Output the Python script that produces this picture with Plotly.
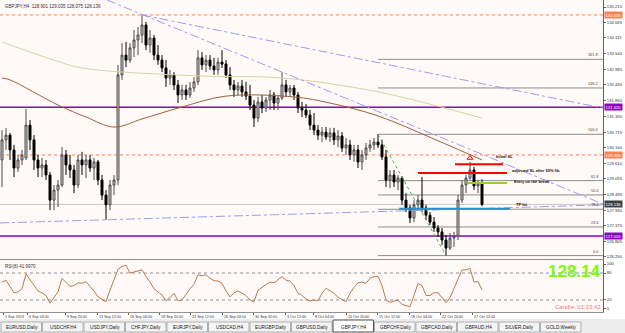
import plotly.graph_objects as go

# ---------------- data ----------------
symbol_title = "GBPJPY,H4  128.901 129.035 128.075 128.136"

opens = [129.73,130.45,130.62,130.09,129.44,129.73,129.80,130.98,130.45,129.73,
         129.44,129.55,129.19,128.29,128.65,128.83,129.91,129.55,129.37,128.83,
         129.73,129.55,129.73,129.44,129.66,129.01,128.47,128.12,128.83,129.01,
         132.78,133.49,133.31,133.75,134.03,134.21,134.57,133.85,134.10,133.49,
         133.31,133.03,132.67,132.78,132.42,132.06,132.24,132.06,132.31,132.53,
         133.39,133.14,133.31,133.10,132.96,133.24,133.17,132.78,132.42,132.24,
         132.38,132.17,132.02,131.70,131.23,131.81,131.59,131.88,132.06,131.77,
         131.95,132.42,132.17,132.31,132.06,131.59,131.52,131.34,130.98,130.80,
         130.62,130.73,130.55,130.70,130.45,130.59,130.16,130.27,129.91,130.09,
         129.66,129.91,130.16,130.27,130.37,130.27,129.84,129.01,129.19,128.94,
         129.08,128.29,128.01,127.65,128.12,128.29,128.01,127.75,127.50,127.29,
         127.15,126.86,126.57,126.93,127.00,128.29,128.83,129.08,129.37,128.80,
         128.901]
highs = [130.80,130.88,130.70,130.27,129.91,130.09,131.56,131.16,130.62,129.91,
         129.80,129.73,129.30,128.83,129.01,130.19,130.09,129.91,129.55,129.91,
         130.02,129.91,129.91,129.80,129.73,129.19,128.65,129.01,129.19,133.14,
         133.92,133.96,133.92,134.39,134.50,134.93,134.68,134.39,134.21,133.85,
         133.49,133.31,132.96,132.88,132.60,132.42,132.42,132.53,132.70,133.67,
         133.60,133.49,133.49,133.39,133.39,133.67,133.31,133.06,132.60,132.53,
         132.60,132.53,132.42,131.88,131.99,132.06,131.99,132.24,132.17,132.06,
         132.88,132.60,132.42,132.42,132.17,131.81,131.74,131.52,131.41,130.98,
         130.91,130.91,130.88,130.88,130.80,130.73,130.52,130.45,130.27,130.27,
         130.09,130.34,130.45,130.52,130.65,130.45,130.09,129.37,129.37,129.19,
         129.15,128.54,128.12,128.29,128.47,129.12,128.12,127.86,127.68,127.40,
         127.29,127.04,127.11,127.15,128.47,129.01,129.19,129.66,129.48,129.01,
         129.035]
lows = [128.76,130.09,129.73,129.12,129.30,129.55,129.73,130.09,129.37,129.12,
        129.12,129.01,127.93,127.93,128.04,128.76,129.19,129.08,128.54,128.72,
        129.19,129.08,129.30,129.01,128.83,128.29,127.58,127.93,128.47,128.83,
        132.60,133.06,133.21,133.42,133.49,133.92,133.67,133.57,133.31,133.14,
        132.88,132.35,132.42,132.24,131.77,131.88,131.88,131.95,132.17,132.42,
        132.96,132.88,132.96,132.78,132.78,133.03,132.67,132.24,131.99,132.06,
        131.99,131.88,131.52,130.91,131.09,131.41,131.45,131.52,131.52,131.52,
        131.88,131.99,131.99,131.88,131.41,131.27,131.23,130.80,130.62,130.45,
        130.37,130.45,130.37,130.27,130.19,130.02,129.91,129.73,129.66,129.44,
        129.37,129.73,130.02,130.09,130.16,129.73,128.76,128.72,128.76,128.65,
        128.12,127.86,127.47,127.50,127.93,127.86,127.58,127.40,127.15,126.97,
        126.68,126.30,126.50,126.61,126.86,128.19,128.54,129.01,128.65,128.54,
        128.075]
closes = [130.45,130.62,130.09,129.44,129.73,129.91,130.98,130.45,129.73,129.44,
          129.55,129.19,128.29,128.65,128.83,129.91,129.55,129.37,128.83,129.73,
          129.55,129.73,129.44,129.66,129.01,128.47,128.12,128.83,129.01,132.78,
          133.49,133.31,133.75,134.03,134.21,134.57,133.85,134.10,133.49,133.31,
          133.03,132.67,132.78,132.42,132.06,132.24,132.06,132.31,132.53,133.39,
          133.14,133.31,133.10,132.96,133.24,133.17,132.78,132.42,132.24,132.38,
          132.17,132.02,131.70,131.23,131.81,131.59,131.88,132.06,131.77,131.95,
          132.42,132.17,132.31,132.06,131.59,131.52,131.34,130.98,130.80,130.62,
          130.73,130.55,130.70,130.45,130.59,130.16,130.27,129.91,130.09,129.66,
          129.91,130.16,130.27,130.37,130.27,129.84,129.01,129.19,128.94,129.08,
          128.29,128.01,127.65,128.12,128.29,128.01,127.75,127.50,127.29,127.15,
          126.86,126.57,126.93,127.00,128.29,128.83,129.08,129.37,128.80,128.90,
          128.136]
rsi = [60,64,50,36,38,45,78,65,52,40,
       36,30,13,25,38,68,60,50,52,58,
       57,61,50,40,27,22,16,42,65,88,
       95,97,80,82,84,87,72,60,45,38,
       31,18,25,35,18,20,33,45,55,76,
       74,76,68,63,62,57,40,27,36,40,
       35,30,20,16,42,48,56,60,58,66,
       72,64,62,52,35,30,22,18,20,18,
       35,46,40,35,26,20,16,35,48,58,
       60,57,68,72,72,52,20,15,18,20,
       10,7,5,30,57,52,30,30,36,36,
       24,14,25,45,68,87,87,90,60,61,
       42]
rsi_title = "RSI(8) 41.9970"

ma_brown_bars = [0, 2, 14, 21, 28, 35, 45, 56, 73, 82, 94, 108, 120]
ma_brown = [132.67, 132.60, 131.70, 131.27, 130.91, 131.20, 131.63, 132.02, 131.99, 131.77, 131.31, 130.48, 129.73]
ma_khaki_bars = [0, 13, 20, 50, 70, 94, 120]
ma_khaki = [133.96, 133.31, 133.03, 132.74, 132.67, 132.17, 131.23]

time_labels = ["1 Sep 2013", "6 Sep 04:00", "9 Sep 20:00", "13 Sep 12:00", "16 Sep 04:00",
               "18 Sep 20:00", "23 Sep 12:00", "26 Sep 04:00", "30 Sep 20:00", "3 Oct 12:00",
               "8 Oct 04:00", "10 Oct 20:00", "15 Oct 12:00", "18 Oct 04:00", "22 Oct 20:00",
               "27 Oct 12:00"]
time_label_bars = [0.25, 6.25, 15.75, 23.75, 31.5, 39.25, 47, 55, 62.75, 70.75,
                   77.75, 86, 93.75, 101.75, 109.5, 117.5]

price_ticks = [135.215, 134.665, 134.115, 133.540, 132.985, 132.435, 131.860, 131.305,
               130.715, 130.160, 129.610, 129.055, 128.495, 127.930, 127.375, 126.805, 126.250]

# fibonacci retracement
fib_low, fib_high, fib_start_bar, fib_low_bar = 126.30, 130.65, 94, 111
fib_levels = [0.0, 23.6, 38.2, 50.0, 61.8, 100.0, 138.2, 161.8]

# horizontal levels across the chart: (price, colour, dash, width)
full_levels = [(134.93, "#FF7F50", "dot", 1), (129.91, "#FF7F50", "dot", 1),
               (131.62, "#8A00C8", "solid", 1.5), (127.00, "#8A00C8", "solid", 1.5),
               (128.136, "#C8C8C8", "solid", 1)]
# trade-plan segments: (bar from, bar to, price, colour)
trade_lines = [(113.25, 125.25, 129.58, "#FF0000"), (104, 126.25, 129.26, "#FF0000"),
               (116.5, 126.25, 128.90, "#9ACD32"), (99.25, 127, 127.98, "#2A8FD0")]
trade_notes = [(123, 129.86, "Initial SL"), (127, 129.34, "adjusted SL after 50% fib"),
               (127.5, 128.96, "Entry on the break"), (128, 128.12, "TP hit")]
# trend lines (bar0, price0, bar1, price1)
trend_lines = [(26.25, 135.466, 150.25, 128.15), (35, 134.93, 150.25, 131.59),
               (-0.5, 127.47, 150.25, 128.12)]
axis_boxes = [(134.93, "134.930", "#FF7F50"), (131.62, "131.620", "#8A00C8"),
              (129.91, "129.900", "#FF7F50"), (128.136, "128.136", "#404040"),
              (127.00, "127.003", "#8A00C8")]
tabs = ["EURUSD,Daily", "USDCHF,H4", "USDJPY,Daily", "CHFJPY,Daily", "EURJPY,Daily",
        "USDCAD,H4", "EURGBP,Daily", "GBPUSD,Daily", "GBPJPY,H4", "GBPCHF,Daily",
        "GBPCAD,Daily", "GBPAUD,H4", "SILVER,Daily", "GOLD,Weekly"]
active_tab = "GBPJPY,H4"
big_price = "128.14"
candle_timer = "Candle: 01:23:42"

# ---------------- layout helpers ----------------
W, H = 625, 333
PLOT_R = 603


def py(p):
    return 1 - p / H


def pxx(p):
    return p / W


FONT = "Liberation Sans, DejaVu Sans, sans-serif"
bars = list(range(len(closes)))

fig = go.Figure()

fig.add_trace(go.Candlestick(
    x=bars, open=opens, high=highs, low=lows, close=closes,
    increasing=dict(line=dict(color="#4A4A4A", width=1), fillcolor="#D0D0D0"),
    decreasing=dict(line=dict(color="#000000", width=1), fillcolor="#000000"),
    whiskerwidth=0, showlegend=False, hoverinfo="skip", xaxis="x", yaxis="y"))

fig.add_trace(go.Scatter(x=ma_khaki_bars, y=ma_khaki, mode="lines", line=dict(color="#D9D1A3", width=1, shape="spline"),
                         showlegend=False, hoverinfo="skip", xaxis="x", yaxis="y"))
fig.add_trace(go.Scatter(x=ma_brown_bars, y=ma_brown, mode="lines", line=dict(color="#A0603A", width=1, shape="spline"),
                         showlegend=False, hoverinfo="skip", xaxis="x", yaxis="y"))

for b0, p0, b1, p1 in trend_lines:
    fig.add_trace(go.Scatter(x=[b0, b1], y=[p0, p1], mode="lines",
                             line=dict(color="#9C9CEE", width=1, dash="dashdot"),
                             showlegend=False, hoverinfo="skip", xaxis="x", yaxis="y"))

# fib diagonal
fig.add_trace(go.Scatter(x=[fib_start_bar, fib_low_bar], y=[fib_high, fib_low], mode="lines",
                         line=dict(color="#3CB35A", width=1, dash="dot"),
                         showlegend=False, hoverinfo="skip", xaxis="x", yaxis="y"))

# fractal marker
fig.add_trace(go.Scatter(x=[117], y=[129.80], mode="markers",
                         marker=dict(symbol="triangle-up-open", size=5, color="#FF0000", line=dict(width=1)),
                         showlegend=False, hoverinfo="skip", xaxis="x", yaxis="y"))

fig.add_trace(go.Scatter(x=bars, y=rsi, mode="lines", line=dict(color="#B9794E", width=1),
                         showlegend=False, hoverinfo="skip", xaxis="x2", yaxis="y2"))

shapes = []
for price, col, dash, w in full_levels:
    shapes.append(dict(type="line", xref="x domain", yref="y", x0=0, x1=1, y0=price, y1=price,
                       line=dict(color=col, width=w, dash=dash), layer="below"))
for lvl in fib_levels:
    p = fib_low + (fib_high - fib_low) * lvl / 100
    shapes.append(dict(type="line", xref="x", yref="y", x0=fib_start_bar, x1=150.25, y0=p, y1=p,
                       line=dict(color="#8C8C8C", width=1), layer="below"))
for b0, b1, p, col in trade_lines:
    shapes.append(dict(type="line", xref="x", yref="y", x0=b0, x1=b1, y0=p, y1=p,
                       line=dict(color=col, width=2)))
for lv in (80, 20):
    shapes.append(dict(type="line", xref="x2 domain", yref="y2", x0=0, x1=1, y0=lv, y1=lv,
                       line=dict(color="#909090", width=1, dash="dot"), layer="below"))

# tab bar
shapes.append(dict(type="rect", xref="paper", yref="paper", x0=0, x1=1, y0=0, y1=py(319),
                   fillcolor="#ECECEC", line=dict(width=0), layer="below"))
tab_w = 41.5
annotations = []
for k, t in enumerate(tabs):
    x0 = 1 + k * tab_w
    active = t == active_tab
    shapes.append(dict(type="rect", xref="paper", yref="paper", x0=pxx(x0), x1=pxx(x0 + tab_w - 1),
                       y0=py(332), y1=py(320 if active else 322),
                       fillcolor="#FFFFFF" if active else "#F4F4F4",
                       line=dict(color="#505050" if active else "#B0B0B0", width=1)))
    annotations.append(dict(text=t, xref="paper", yref="paper", x=pxx(x0 + tab_w / 2), y=py(327),
                            showarrow=False, font=dict(size=4.7, color="#202020", family=FONT),
                            xanchor="center", yanchor="middle"))

annotations.append(dict(text=symbol_title, xref="paper", yref="paper", x=pxx(3), y=py(7), showarrow=False,
                        xanchor="left", yanchor="middle", font=dict(size=4.5, color="#303030", family=FONT)))
annotations.append(dict(text=rsi_title, xref="paper", yref="paper", x=pxx(3), y=py(266), showarrow=False,
                        xanchor="left", yanchor="middle", font=dict(size=4.5, color="#303030", family=FONT)))

for lvl in fib_levels:
    p = fib_low + (fib_high - fib_low) * lvl / 100
    annotations.append(dict(text=f"{lvl:.1f}", xref="paper", yref="y", x=pxx(600), y=p, showarrow=False,
                            xanchor="right", yanchor="bottom", font=dict(size=3.8, color="#404040", family=FONT)))

for b, p, t in trade_notes:
    annotations.append(dict(text=f"<b>{t}</b>", xref="x", yref="y", x=b, y=p, showarrow=False,
                            xanchor="left", yanchor="middle", font=dict(size=4, color="#101010", family=FONT)))

for p, t, col in axis_boxes:
    annotations.append(dict(text=t, xref="paper", yref="y", x=pxx(PLOT_R + 1), y=p, showarrow=False,
                            xanchor="left", yanchor="middle", bgcolor=col, borderpad=0.5,
                            font=dict(size=4.2, color="#FFFFFF", family=FONT)))

for b, t in zip(time_label_bars, time_labels):
    annotations.append(dict(text=t, xref="x2", yref="paper", x=b, y=py(316.5), showarrow=False,
                            xanchor="left", yanchor="middle", font=dict(size=3.7, color="#303030", family=FONT)))

annotations.append(dict(text=f"<b>{big_price}</b>", xref="paper", yref="paper", x=pxx(603), y=py(271),
                        showarrow=False, xanchor="right", yanchor="middle",
                        font=dict(size=17, color="#7CFC00", family="Liberation Sans, Arial, sans-serif")))
annotations.append(dict(text=candle_timer, xref="paper", yref="paper", x=pxx(603), y=py(307),
                        showarrow=False, xanchor="right", yanchor="middle",
                        font=dict(size=6, color="#F08070", family=FONT)))

fig.update_layout(
    width=W, height=H, margin=dict(l=0, r=0, t=0, b=0),
    paper_bgcolor="#FFFFFF", plot_bgcolor="#FFFAF8", showlegend=False,
    xaxis=dict(domain=[0, PLOT_R / W], range=[-0.5, 150.25], showticklabels=False, showgrid=False,
               zeroline=False, rangeslider=dict(visible=False), showline=True, mirror=True,
               linecolor="#909090", linewidth=1, anchor="y"),
    yaxis=dict(domain=[py(259), 1], range=[126.178, 135.466], side="right", tickvals=price_ticks,
               ticktext=[f"{v:.3f}" for v in price_ticks], ticks="outside", ticklen=2, tickcolor="#606060",
               tickfont=dict(size=4.2, color="#303030", family=FONT), showgrid=False, zeroline=False,
               showline=True, linecolor="#606060", linewidth=1, anchor="x"),
    xaxis2=dict(domain=[0, PLOT_R / W], range=[-0.5, 150.25], showticklabels=False, showgrid=False,
                zeroline=False, showline=True, mirror=True, linecolor="#909090", linewidth=1, anchor="y2",
                tickvals=time_label_bars, ticks="outside", ticklen=2, tickcolor="#606060"),
    yaxis2=dict(domain=[py(312), py(260)], range=[-6.7, 108.9], side="right", tickvals=[100, 80, 20, 0],
                ticktext=["100", "80", "20", "0"], ticks="outside", ticklen=2, tickcolor="#606060",
                tickfont=dict(size=4.2, color="#303030", family=FONT), showgrid=False, zeroline=False,
                showline=True, linecolor="#606060", linewidth=1, anchor="x2"),
    shapes=shapes, annotations=annotations,
)

fig.write_html("out.html")
